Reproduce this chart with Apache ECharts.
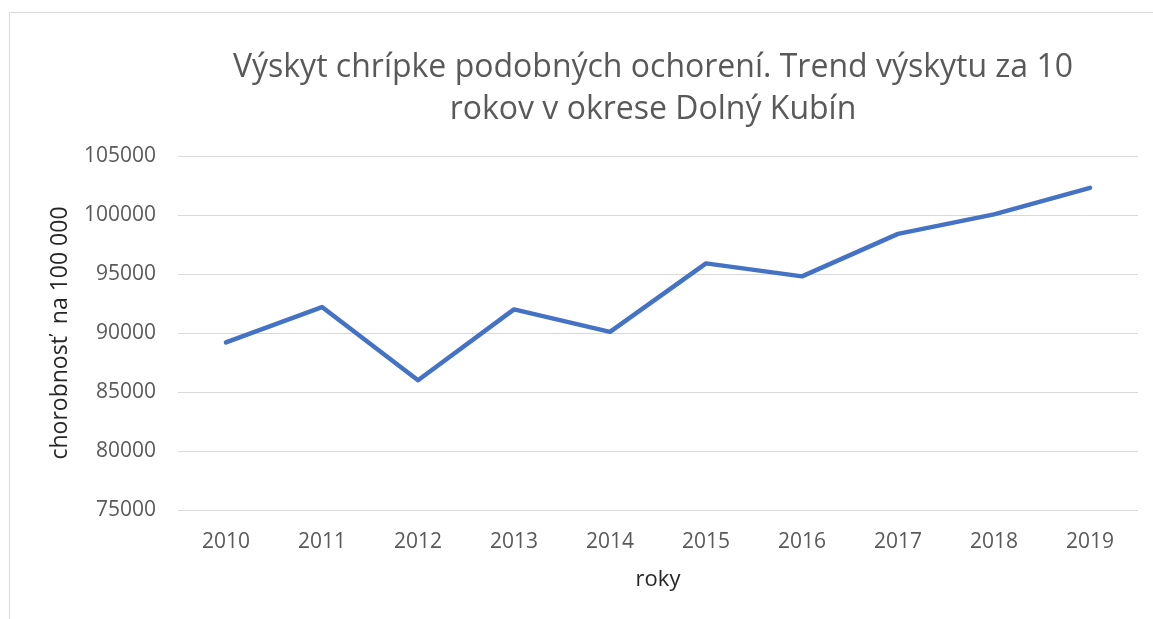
<!DOCTYPE html>
<html>
<head>
<meta charset="utf-8">
<script src="https://cdn.jsdelivr.net/npm/echarts@6/dist/echarts.min.js"></script>
<style>
  html, body { margin: 0; padding: 0; background: #fff; }
  #chart { width: 1153px; height: 619px; }
</style>
</head>
<body>
<div id="chart"></div>
<script>
const years = ['2010', '2011', '2012', '2013', '2014', '2015', '2016', '2017', '2018', '2019'];
const incidence = [89200, 92200, 86000, 92000, 90100, 95900, 94800, 98400, 100050, 102300];
const yTicks = { min: 75000, max: 105000, step: 5000 };

const textColor = '#595959', nameColor = '#262626', gridColor = '#d9d9d9', lineColor = '#4472C4';
const font = '"Open Sans", "Noto Sans", sans-serif';

let myChart = echarts.init(document.getElementById('chart'));
myChart.setOption({
  animation: false,
  textStyle: { fontFamily: font },
  title: {
    text: 'Výskyt chrípke podobných ochorení. Trend výskytu za 10\nrokov v okrese Dolný Kubín',
    left: 648,
    top: 42,
    textAlign: 'center',
    textStyle: {
      fontFamily: font,
      fontSize: 32,
      lineHeight: 42,
      fontWeight: 'normal',
      color: textColor
    }
  },
  // ramik okolo grafu (len horna a lava hrana su vidiet)
  graphic: [{
    type: 'rect',
    silent: true,
    shape: { x: 9.5, y: 12.5, width: 2000, height: 2000 },
    style: { fill: 'none', stroke: gridColor, lineWidth: 1 }
  }],
  grid: {
    left: 178,
    right: 15,
    top: 156,
    bottom: 109
  },
  xAxis: {
    type: 'category',
    data: years,
    boundaryGap: true,
    name: 'roky',
    nameLocation: 'middle',
    nameGap: 59,
    nameTextStyle: { fontFamily: font, fontSize: 22, color: nameColor },
    axisLine: { show: false },
    axisTick: { show: false },
    axisLabel: { fontFamily: font, fontSize: 21, color: textColor, margin: 22 }
  },
  yAxis: {
    type: 'value',
    min: yTicks.min,
    max: yTicks.max,
    interval: yTicks.step,
    name: 'chorobnosť  na 100 000',
    nameLocation: 'middle',
    nameRotate: 90,
    nameGap: 106,
    nameTextStyle: { fontFamily: font, fontSize: 23, color: nameColor },
    axisLine: { show: false },
    axisTick: { show: false },
    axisLabel: {
      fontFamily: font, fontSize: 21, color: textColor, margin: 22,
      formatter: v => String(v)
    },
    splitLine: { lineStyle: { color: gridColor, width: 1 } }
  },
  series: [{
    type: 'line',
    data: incidence,
    showSymbol: false,
    symbol: 'none',
    lineStyle: { color: lineColor, width: 4.5, cap: 'round', join: 'round' }
  }]
});
</script>
</body>
</html>
